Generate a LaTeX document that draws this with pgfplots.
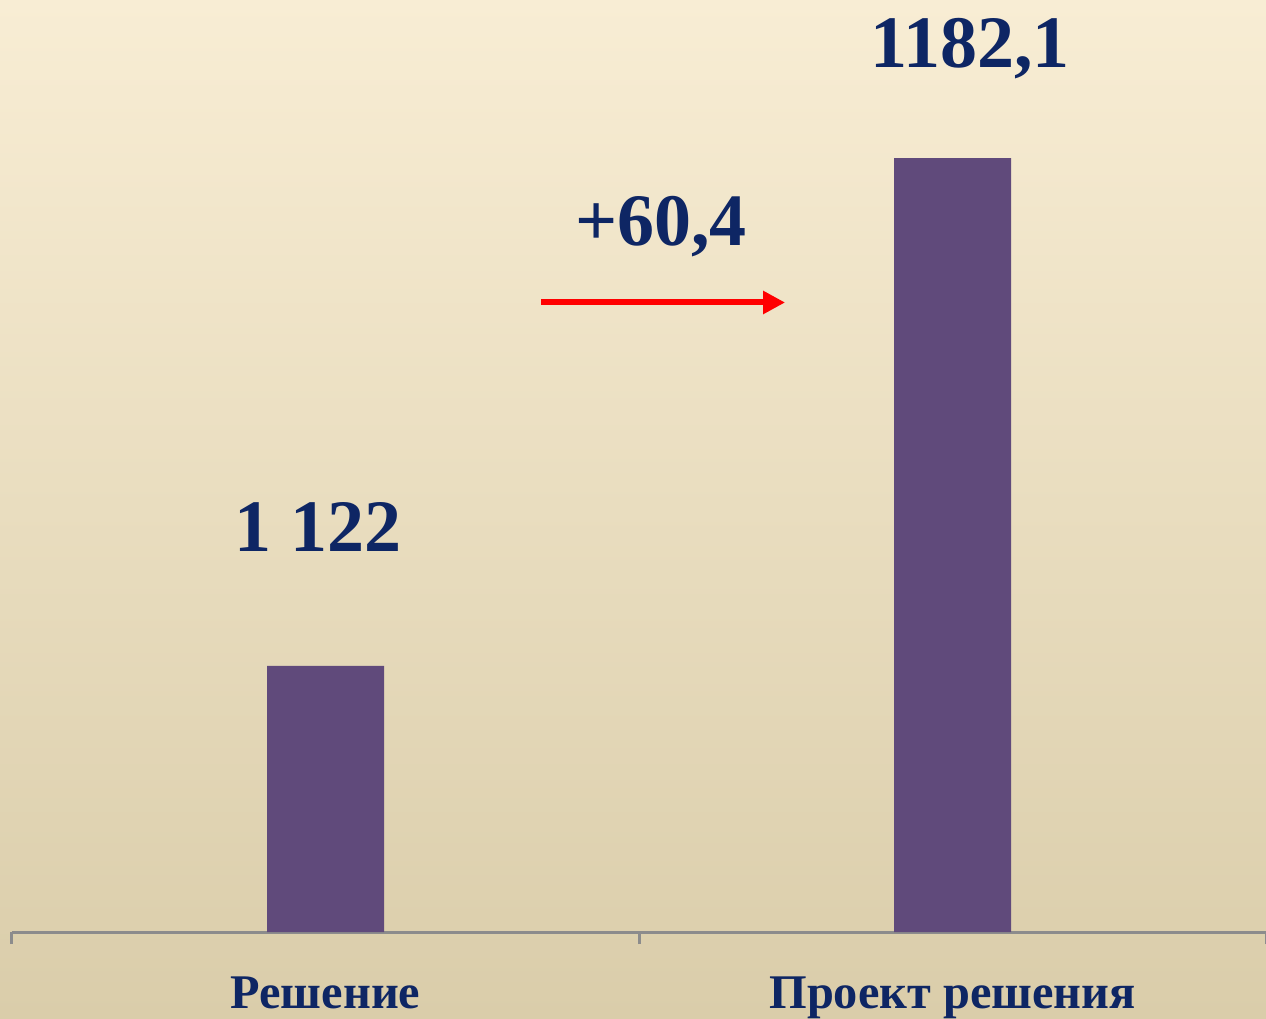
\documentclass[border=0pt]{standalone}
\usepackage{fontspec}
\setmainfont{Liberation Serif}
\usepackage{pgfplots}
\pgfplotsset{compat=1.18}
\usetikzlibrary{arrows.meta}

\definecolor{barpurple}{RGB}{96,74,123}
\definecolor{navytext}{RGB}{14,38,100}
\definecolor{axisgray}{RGB}{140,140,140}
\definecolor{bgtop}{RGB}{248,237,212}
\definecolor{bgmid}{RGB}{242,234,214}
\definecolor{bgbot}{RGB}{218,205,170}

\begin{document}
\begin{tikzpicture}
% background, 1266 x 1018 px at 0.3pt per px
\shade[top color=bgtop, middle color=bgmid, bottom color=bgbot]
  (0,0) rectangle (379.8pt,305.4pt);
\useasboundingbox (0,0) rectangle (379.8pt,305.4pt);
\begin{axis}[
    at={(3.6pt,25.8pt)}, anchor=south west,
    scale only axis,
    width=376.2pt, height=279.6pt,
    xmin=-0.5, xmax=1.5,
    ymin=1090.5, ymax=1200.8,
    axis x line*=bottom,
    axis y line=none,
    axis line style={axisgray, line width=0.9pt},
    xtick={-0.5,0.5,1.5},
    x tick label as interval,
    xticklabels={Решение, Проект решения},
    tick align=outside,
    major tick length=3.6pt,
    tick style={axisgray, line width=0.9pt},
    xticklabel style={font=\bfseries\fontsize{14.5}{17}\selectfont, text=navytext, anchor=base, yshift=-19.2pt},
    ytick=\empty,
    ybar,
    bar width=35.1pt,
]
\addplot[fill=barpurple, draw=none] coordinates {(0,1122) (1,1182.1)};

\node[anchor=base, text=navytext, font=\bfseries\fontsize{22.2}{26}\selectfont]
  at (axis cs:-0.012,1135.5) {1 122};
\node[anchor=base, text=navytext, font=\bfseries\fontsize{22.2}{26}\selectfont]
  at (axis cs:1.028,1192.8) {1182,1};
\node[anchor=base, text=navytext, font=\bfseries\fontsize{22.2}{26}\selectfont]
  at (axis cs:0.535,1171.8) {+60,4};
\draw[red, line width=1.8pt, -{Triangle[length=6.6pt, width=6.6pt]}]
  (axis cs:0.344,1165.0) -- (axis cs:0.733,1165.0);
\end{axis}
\end{tikzpicture}
\end{document}
